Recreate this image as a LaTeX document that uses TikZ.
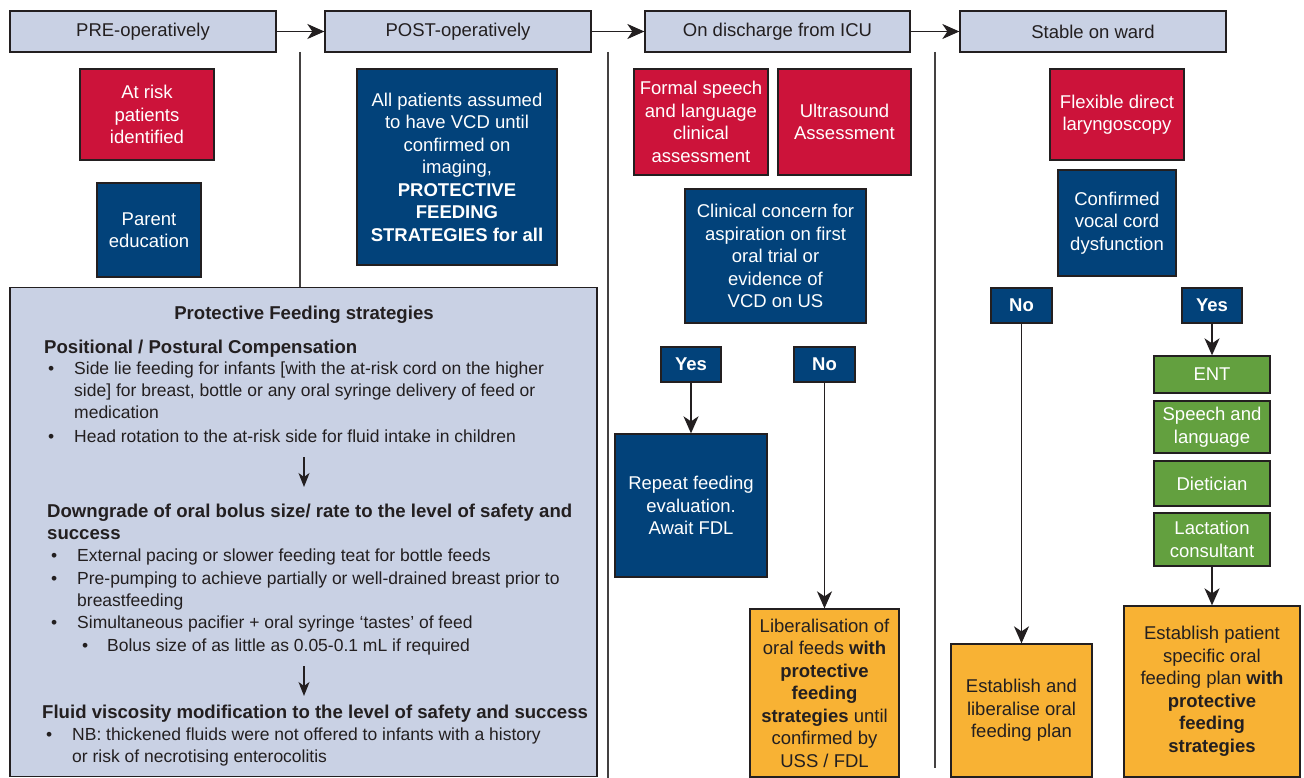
\documentclass[tikz,border=0pt]{standalone}
\usepackage{fontspec}
\setmainfont{Liberation Sans}
\usetikzlibrary{arrows.meta}
\definecolor{hdr}{HTML}{C9D1E4}
\definecolor{rd}{HTML}{CC133A}
\definecolor{bl}{HTML}{02427A}
\definecolor{gr}{HTML}{63A03F}
\definecolor{og}{HTML}{F8B234}
\definecolor{ink}{HTML}{231F20}
\begin{document}
\begin{tikzpicture}[x=1pt,y=-1pt,
  box/.style={draw=ink,line width=1.3pt,inner sep=0pt,align=center,font=\fontsize{18.5}{22.5}\selectfont},
  hdrbox/.style={box,fill=hdr,text=ink},
  redbox/.style={box,fill=rd,text=white},
  bluebox/.style={box,fill=bl,text=white},
  ynbox/.style={box,fill=bl,text=white,font=\fontsize{18.5}{22}\selectfont\bfseries},
  greenbox/.style={box,fill=gr,text=white},
  orangebox/.style={box,fill=og,text=ink},
  arr/.style={draw=ink,line width=1.5pt,-{Stealth[length=17pt,width=15pt,inset=5pt]}},
  smallarr/.style={draw=ink,line width=1.3pt,-{Stealth[length=14pt,width=11pt,inset=4pt]}},
  divider/.style={draw=ink!85,line width=1.4pt},
  ltxt/.style={anchor=base west,inner sep=0pt,text=ink,font=\fontsize{17.5}{21}\selectfont},
  lhead/.style={ltxt,font=\fontsize{18.6}{21}\selectfont\bfseries}
]
\useasboundingbox (0,0) rectangle (1304,778);
\fill[white] (0,0) rectangle (1304,778);

% headers
\node[hdrbox,minimum width=266,minimum height=41] (pre) at (143,31.5) {PRE-operatively};
\node[hdrbox,minimum width=266,minimum height=41] (post) at (458,31.5) {POST-operatively};
\node[hdrbox,minimum width=265,minimum height=41] (icu) at (777.5,31.5) {On discharge from ICU};
\node[hdrbox,minimum width=266,minimum height=41] (ward) at (1093,31.5) {Stable on ward};
\draw[arr] (pre) -- (post);
\draw[arr] (post) -- (icu);
\draw[arr] (icu) -- (ward);

% dividers
\coordinate (d1a) at (300,52); \coordinate (d1b) at (300,287);
\coordinate (d2a) at (608,52); \coordinate (d2b) at (608,778);
\coordinate (d3a) at (935,52); \coordinate (d3b) at (935,768);
\draw[divider] (d1a) -- (d1b);
\draw[divider] (d2a) -- (d2b);
\draw[divider] (d3a) -- (d3b);

% column 1
\node[redbox,minimum width=134,minimum height=91] (risk) at (147,114.5) {At risk\\patients\\identified};
\node[bluebox,minimum width=104,minimum height=94] (parent) at (149,230) {Parent\\education};
\node[hdrbox,minimum width=587,minimum height=489] (big) at (303.5,532) {};

\node[lhead,anchor=base] (t0) at (304,319) {Protective Feeding strategies};
\node[lhead] (h1) at (44,353) {Positional / Postural Compensation};
\node[ltxt] (b1) at (48,374) {•};
\node[ltxt] (l1) at (74,374) {Side lie feeding for infants [with the at-risk cord on the higher};
\node[ltxt] (l2) at (74,396) {side] for breast, bottle or any oral syringe delivery of feed or};
\node[ltxt] (l3) at (74,418) {medication};
\node[ltxt] (b2) at (48,442) {•};
\node[ltxt] (l4) at (74,442) {Head rotation to the at-risk side for fluid intake in children};
\coordinate (a1s) at (304,457); \coordinate (a1e) at (304,487);
\draw[smallarr] (a1s) -- (a1e);
\node[lhead] (h2) at (47,517) {Downgrade of oral bolus size/ rate to the level of safety and};
\node[lhead] (h2b) at (47,539) {success};
\node[ltxt] (b3) at (51,561) {•};
\node[ltxt] (l5) at (77,561) {External pacing or slower feeding teat for bottle feeds};
\node[ltxt] (b4) at (51,584) {•};
\node[ltxt] (l6) at (77,584) {Pre-pumping to achieve partially or well-drained breast prior to};
\node[ltxt] (l7) at (77,606) {breastfeeding};
\node[ltxt] (b5) at (51,628) {•};
\node[ltxt] (l8) at (77,628) {Simultaneous pacifier + oral syringe ‘tastes’ of feed};
\node[ltxt] (b6) at (82,651) {•};
\node[ltxt] (l9) at (107,651) {Bolus size of as little as 0.05-0.1 mL if required};
\coordinate (a2s) at (304,666); \coordinate (a2e) at (304,696);
\draw[smallarr] (a2s) -- (a2e);
\node[lhead] (h3) at (42,718) {Fluid viscosity modification to the level of safety and success};
\node[ltxt] (b7) at (46,740) {•};
\node[ltxt] (l10) at (72,740) {NB: thickened fluids were not offered to infants with a history};
\node[ltxt] (l11) at (72,762) {or risk of necrotising enterocolitis};

% column 2
\node[bluebox,minimum width=200,minimum height=196] (allpat) at (457,167) {All patients assumed\\to have VCD until\\confirmed on\\imaging,\\\textbf{PROTECTIVE}\\\textbf{FEEDING}\\\textbf{STRATEGIES for all}};

% column 3
\node[redbox,minimum width=134,minimum height=106] (formal) at (701,122) {Formal speech\\and language\\clinical\\assessment};
\node[redbox,minimum width=133,minimum height=106] (ultra) at (844.5,122) {Ultrasound\\Assessment};
\node[bluebox,minimum width=181,minimum height=134] (concern) at (775.5,256) {Clinical concern for\\aspiration on first\\oral trial or\\evidence of\\VCD on US};
\node[ynbox,minimum width=60,minimum height=35] (yes1) at (691,364.5) {Yes};
\node[ynbox,minimum width=61,minimum height=35] (no1) at (824.5,364.5) {No};
\node[bluebox,minimum width=152,minimum height=143] (repeat) at (691,505.5) {Repeat feeding\\evaluation.\\Await FDL};
\node[orangebox,minimum width=149,minimum height=168] (lib) at (824.5,693) {Liberalisation of\\oral feeds \textbf{with}\\\textbf{protective}\\\textbf{feeding}\\\textbf{strategies} until\\confirmed by\\USS / FDL};
\draw[arr] (yes1) -- (repeat);
\draw[arr] (no1) -- (lib);

% column 4
\node[redbox,minimum width=134,minimum height=91] (flex) at (1117,114.5) {Flexible direct\\laryngoscopy};
\node[bluebox,minimum width=118,minimum height=106] (conf) at (1117,223) {Confirmed\\vocal cord\\dysfunction};
\node[ynbox,minimum width=61,minimum height=35] (no2) at (1021.5,305.5) {No};
\node[ynbox,minimum width=60,minimum height=35] (yes2) at (1212,305.5) {Yes};
\node[greenbox,minimum width=116,minimum height=37] (ent) at (1212,374.5) {ENT};
\node[greenbox,minimum width=116,minimum height=52] (speech) at (1212,427) {Speech and\\language};
\node[greenbox,minimum width=116,minimum height=45] (diet) at (1212,483.5) {Dietician};
\node[greenbox,minimum width=116,minimum height=53] (lact) at (1212,539.5) {Lactation\\consultant};
\node[orangebox,minimum width=141,minimum height=133] (est1) at (1021.5,710.5) {Establish and\\liberalise oral\\feeding plan};
\node[orangebox,minimum width=176,minimum height=171] (est2) at (1212,691.5) {Establish patient\\specific oral\\feeding plan \textbf{with}\\\textbf{protective}\\\textbf{feeding}\\\textbf{strategies}};
\draw[arr] (no2) -- (est1);
\draw[arr] (yes2) -- (ent);
\draw[arr] (lact) -- (est2);
\end{tikzpicture}
\end{document}
